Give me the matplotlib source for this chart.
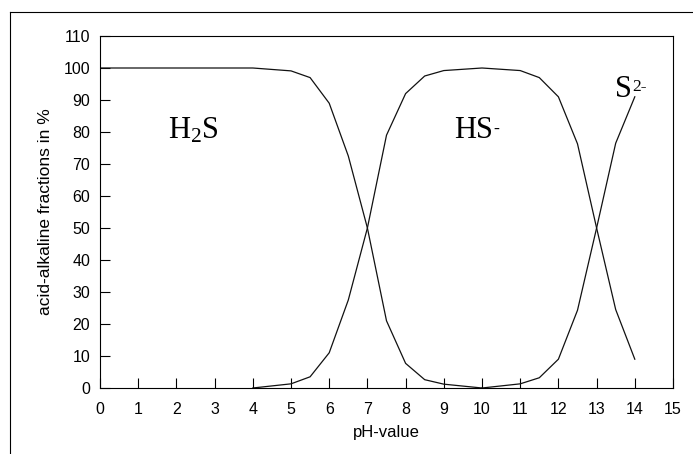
import matplotlib
matplotlib.use('Agg')
import matplotlib.pyplot as plt
from matplotlib.lines import Line2D

# pH points and acid-alkaline fractions (%)
ph_h2s = [0, 1, 2, 3, 4, 5, 5.5, 6, 6.5, 7, 7.5, 8, 8.5, 9, 10]
h2s = [100, 100, 100, 100, 100, 99.1, 97, 89, 72.5, 50, 21, 7.7, 2.6, 1.2, 0]

ph_hs = [4, 5, 5.5, 6, 6.5, 7, 7.5, 8, 8.5, 9, 10, 11, 11.5, 12, 12.5, 13, 13.5, 14]
hs = [0, 1.3, 3.5, 11, 27.5, 50, 79, 92, 97.5, 99.2, 100, 99.2, 97, 91, 76.3, 50, 24.5, 9]

ph_s = [10, 11, 11.5, 12, 12.5, 13, 13.5, 14]
s2 = [0, 1.3, 3.2, 9, 24.3, 50, 76.5, 91]

xticks = list(range(0, 16))
yticks = list(range(0, 111, 10))

plt.rcParams['font.family'] = ['Liberation Sans', 'DejaVu Sans']
plt.rcParams['mathtext.fontset'] = 'custom'
plt.rcParams['mathtext.rm'] = 'Liberation Serif'
serif = ['Liberation Serif', 'DejaVu Serif']

fig = plt.figure(figsize=(6.93, 4.54), dpi=100)
ax = fig.add_axes([100/693, 66/454, 573/693, 352/454])

ax.plot(ph_h2s, h2s, color='#111111', lw=0.9)
ax.plot(ph_hs, hs, color='#111111', lw=0.9)
ax.plot(ph_s, s2, color='#111111', lw=0.9)

ax.set_xlim(0, 15)
ax.set_ylim(0, 110)
ax.set_xticks(xticks)
ax.set_yticks(yticks)
ax.tick_params(direction='in', length=7, width=0.8, labelsize=11.5, colors='black')
ax.tick_params(axis='x', pad=10)
ax.tick_params(axis='y', pad=7)
for sp in ax.spines.values():
    sp.set_linewidth(0.8)

ax.set_xlabel('pH-value', fontsize=12)
ax.set_ylabel('acid-alkaline fractions in %', fontsize=12.5)
ax.xaxis.set_label_coords(0.5, -0.105)
ax.yaxis.set_label_coords(-0.082, 0.5)

# species labels
ax.text(1.77, 78, r'$\mathrm{H_2S}$', fontsize=22)

t2 = ax.text(9.27, 78, 'HS', family=serif, fontsize=22)
ax.annotate('-', xy=(1, 1), xycoords=t2, xytext=(0, -3), textcoords='offset points',
            family=serif, fontsize=13, ha='left', va='top')

t3 = ax.text(13.48, 91, 'S', family=serif, fontsize=22)
ax.annotate('2-', xy=(1, 1), xycoords=t3, xytext=(0, -3), textcoords='offset points',
            family=serif, fontsize=12.5, ha='left', va='top')

# outer frame (top and left edges)
fig.add_artist(Line2D([10/693, 1], [1 - 12/454, 1 - 12/454], transform=fig.transFigure,
                      color='black', lw=0.8))
fig.add_artist(Line2D([10/693, 10/693], [0, 1 - 12/454], transform=fig.transFigure,
                      color='black', lw=0.8))

fig.savefig('out.png', dpi=100)
